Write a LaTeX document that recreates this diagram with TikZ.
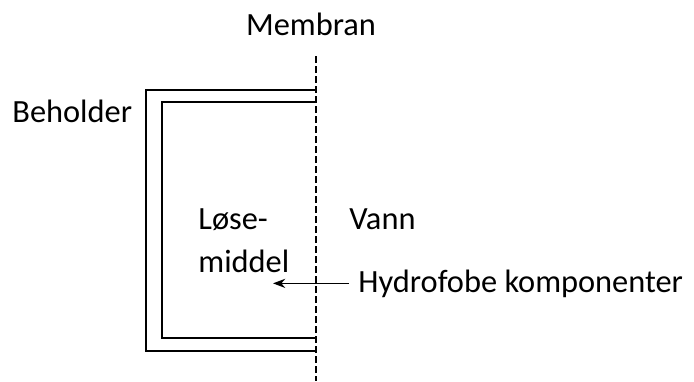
\documentclass[tikz,border=0pt]{standalone}
\usepackage{fontspec}
\setmainfont{Carlito}
\usetikzlibrary{arrows.meta}

\begin{document}
\begin{tikzpicture}[
    x=0.5pt, y=-0.5pt,
    >=Stealth,
    % Styling for labels and lines
    label/.style={inner sep=0pt, font=\fontsize{16.2}{21.5}\selectfont, text=black},
    wall/.style={line width=0.9pt, color=black},
    membrane/.style={line width=1pt, color=black, dash pattern=on 3.5pt off 1.5pt},
    pointer/.style={line width=0.7pt, color=black, ->}
]

    % Frame of the picture
    \useasboundingbox (0,0) rectangle (694,381);

    % Membrane (dashed line)
    \coordinate (MemTop) at (316,56);
    \coordinate (MemBot) at (316,381);
    \draw[membrane] (MemTop) -- (MemBot);

    % Container walls (outer and inner)
    \draw[wall] (316,90) -- (146,90) -- (146,351) -- (316,351);
    \draw[wall] (316,102) -- (162,102) -- (162,338) -- (316,338);

    % Labels
    \node[label, anchor=base] (Membran) at (311,35) {Membran};
    \node[label, anchor=base west] (Beholder) at (12,122) {Beholder};
    \node[label, anchor=base west, align=left] (Solvent) at (198,272) {Løse-\\middel};
    \node[label, anchor=base west] (Vann) at (349,229) {Vann};
    \node[label, anchor=base west, inner xsep=4.5pt] (Hydro) at (349,292) {Hydrofobe komponenter};

    % Arrow into the solvent
    \coordinate (Tip) at (273,283);
    \draw[pointer] (Hydro.west) -- (Hydro.west -| Tip);

\end{tikzpicture}
\end{document}
